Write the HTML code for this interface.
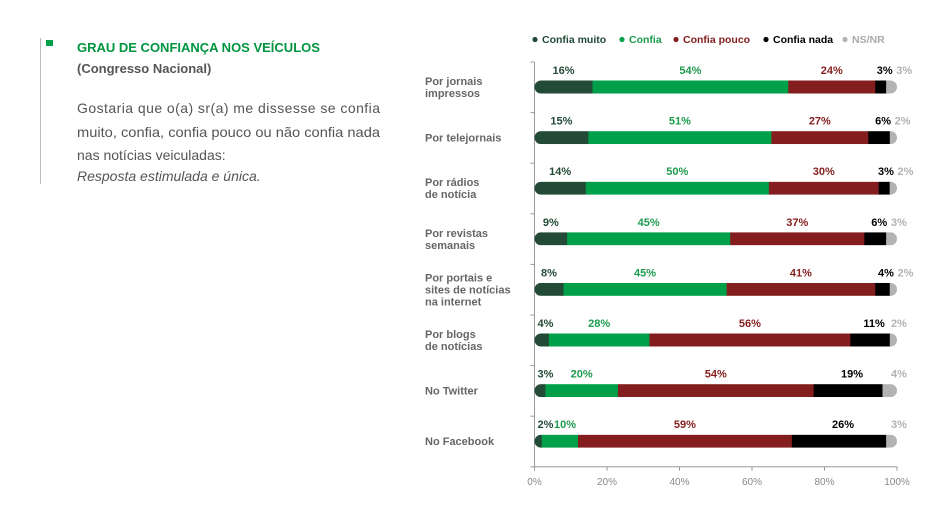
<!DOCTYPE html>
<html><head><meta charset="utf-8"><style>
body{margin:0;background:#fff;width:933px;height:522px;overflow:hidden;font-family:"Liberation Sans",sans-serif}
svg text{font-family:"Liberation Sans",sans-serif}
</style></head><body>
<svg id="c" width="933" height="522" xmlns="http://www.w3.org/2000/svg">
<line x1="40.5" y1="38" x2="40.5" y2="184" stroke="#bbb"/>
<rect x="46" y="40" width="7" height="6" fill="#00a04a"/>
<text x="77" y="52" font-size="13" font-weight="bold" fill="#00953f">GRAU DE CONFIANÇA NOS VEÍCULOS</text>
<text x="77" y="73" font-size="13" font-weight="bold" fill="#555">(Congresso Nacional)</text>
<g font-size="14" fill="#555">
<text x="77" y="113" textLength="303" lengthAdjust="spacing">Gostaria que o(a) sr(a) me dissesse se confia</text>
<text x="77" y="137" textLength="303" lengthAdjust="spacingAndGlyphs">muito, confia, confia pouco ou não confia nada</text>
<text x="77" y="160">nas notícias veiculadas:</text>
<text x="77" y="181" font-style="italic">Resposta estimulada e única.</text>
</g>
<g id="legend"></g>
<g id="plot"></g>
</svg>
<script>
const categories=[["Por jornais","impressos"],["Por telejornais"],["Por rádios","de notícia"],["Por revistas","semanais"],["Por portais e","sites de notícias","na internet"],["Por blogs","de notícias"],["No Twitter"],["No Facebook"]];
const seriesNames=["Confia muito","Confia","Confia pouco","Confia nada","NS/NR"];
const confiaMuito=[16,15,14,9,8,4,3,2];
const confia=[54,51,50,45,45,28,20,10];
const confiaPouco=[24,27,30,37,41,56,54,59];
const confiaNada=[3,6,3,6,4,11,19,26];
const nsnr=[3,2,2,3,2,2,4,3];
const ticks=[0,20,40,60,80,100];
const colors=["#234a36","#00a04a","#841e1e","#000000","#b3b3b3"];
const labelColors=["#234a36","#1e9a4e","#841e1e","#000000","#b3b3b3"];
const series=[confiaMuito,confia,confiaPouco,confiaNada,nsnr];
const NS="http://www.w3.org/2000/svg";
const X0=534.5,X1=897,rowTop=62,rowH=50.6,barH=13;
const x=v=>X0+(X1-X0)*v/100;
const rowY=i=>rowTop+rowH*i+25;
function mk(t,a,p){const e=document.createElementNS(NS,t);for(const k in a)e.setAttribute(k,a[k]);p.appendChild(e);return e;}
const plot=document.getElementById('plot'),leg=document.getElementById('legend');
const legX=[535,622,676,766,845];
seriesNames.forEach((n,s)=>{
  const g=mk('g',{},leg);
  
  
  mk('circle',{cx:legX[s],cy:39.5,r:2.6,fill:colors[s]},g);
  const t=mk('text',{x:legX[s]+7,y:43,'font-size':10.5,'font-weight':'bold',fill:s==4?'#aaa':labelColors[s]},g);t.textContent=n;
});
const ya=mk('line',{x1:X0,y1:rowTop,x2:X0,y2:rowTop+rowH*8,stroke:'#999'},plot);


for(let i=0;i<=8;i++){const tk=mk('line',{x1:X0-4,y1:rowTop+rowH*i,x2:X0,y2:rowTop+rowH*i,stroke:'#999'},plot);

}
const xa=mk('line',{x1:X0,y1:rowTop+rowH*8,x2:X1,y2:rowTop+rowH*8,stroke:'#999'},plot);


ticks.forEach(v=>{
  const tk=mk('line',{x1:x(v),y1:rowTop+rowH*8,x2:x(v),y2:rowTop+rowH*8+4,stroke:'#999'},plot);
  
  
  const t=mk('text',{x:x(v),y:rowTop+rowH*8+18,'font-size':10,fill:'#888','text-anchor':'middle'},plot);t.textContent=v+'%';
  
  
});
categories.forEach((c,i)=>{
  const cy=rowY(i);
  const g=mk('g',{},plot);
  
  
  const lh=12,start=cy+4-(c.length-1)*lh/2;
  c.forEach((l,k)=>{const t=mk('text',{x:425,y:start+k*lh,'font-size':11,'font-weight':'bold',fill:'#666'},g);t.textContent=l;
    
    });
  const cp=mk('clipPath',{id:'cp'+i},g);
  let tot=series.reduce((a,s)=>a+s[i],0);
  const sx=v=>X0+(X1-X0)*v/tot;
  mk('rect',{x:X0,y:cy-barH/2,width:X1-X0,height:barH,rx:barH/2},cp);
  let acc=0,prevR=-1e9;
  series.forEach((s,k)=>{
    const v=s[i],a=sx(acc),b=sx(acc+v);
    const r=mk('rect',{x:a,y:cy-barH/2,width:Math.max(0,b-a+(k<4?0.5:0)),height:barH,fill:colors[k],'clip-path':'url(#cp'+i+')'},g);
    
    
    let lx=(a+b)/2;
    if(k==0) lx=Math.max(lx,X0+11);
    if(k==4) lx=Math.max(lx,x(100)+2);
    if(k==3) lx=Math.min(lx+4,x(100)-11);
    lx=Math.max(lx,prevR+12);
    const t=mk('text',{x:lx,y:cy-13,'font-size':11,'font-weight':'bold',fill:labelColors[k],'text-anchor':'middle'},g);
    t.textContent=v+'%';
    
    
    prevR=lx+(String(v).length*6+9)/2;
    acc+=v;
  });
});
</script>
</body></html>
